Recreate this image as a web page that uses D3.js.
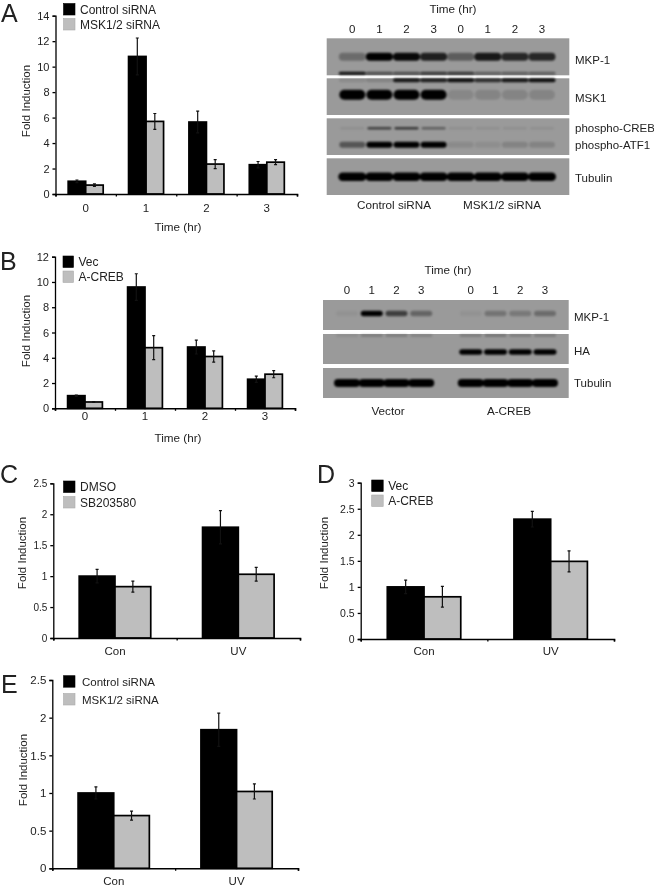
<!DOCTYPE html>
<html>
<head>
<meta charset="utf-8">
<script src="https://cdn.jsdelivr.net/npm/d3@7"></script>
<style>
    body { margin: 0; background: #fff; }
    svg { display: block; filter: blur(0.5px); }
    text { font-family: "Liberation Sans", Arial, sans-serif; fill: #222; }
</style>
</head>
<body>
<div id="figure"></div>
<script>
// Bar chart values
const timeLabels = ["0", "1", "2", "3"];
const treatLabels = ["Con", "UV"];

const aControl = [1.0, 10.8, 5.65, 2.3];
const aControlErr = [0.1, 1.45, 0.85, 0.25];
const aMsk = [0.7, 5.7, 2.35, 2.5];
const aMskErr = [0.1, 0.62, 0.35, 0.2];

const bVec = [1.0, 9.6, 4.85, 2.3];
const bVecErr = [0.05, 1.05, 0.55, 0.25];
const bCreb = [0.5, 4.8, 4.1, 2.7];
const bCrebErr = [0.03, 0.95, 0.45, 0.28];

const cDmso = [1.0, 1.79];
const cDmsoErr = [0.11, 0.27];
const cSb = [0.83, 1.03];
const cSbErr = [0.09, 0.11];

const dVec = [1.0, 2.3];
const dVecErr = [0.13, 0.15];
const dCreb = [0.81, 1.49];
const dCrebErr = [0.2, 0.2];

const eControl = [1.0, 1.84];
const eControlErr = [0.08, 0.22];
const eMsk = [0.7, 1.02];
const eMskErr = [0.06, 0.1];

// Blot band darkness per lane, 0 to 1
const blotAMkp = [0.3, 1, 0.95, 0.8, 0.4, 0.85, 0.75, 0.75];
const blotAMkpLow = [0.9, 0.5, 0.5, 0.65, 0.65, 0.4, 0.4, 0.4];
const blotAMskTop = [0.1, 0.15, 0.85, 0.8, 0.9, 0.7, 0.85, 0.9];
const blotAMsk = [1, 1, 1, 1, 0.12, 0.14, 0.14, 0.14];
const blotACreb = [0.08, 0.6, 0.65, 0.4, 0.08, 0.08, 0.08, 0.08];
const blotAAtf = [0.45, 1, 1, 1, 0.1, 0.08, 0.15, 0.15];
const blotATub = [1, 1, 1, 1, 1, 1, 1, 1];

const blotBMkp = [0.05, 1, 0.6, 0.35, 0.05, 0.25, 0.22, 0.3];
const blotBHaTop = [0.1, 0.22, 0.22, 0.18, 0.22, 0.28, 0.22, 0.22];
const blotBHa = [0, 0, 0, 0, 1, 1, 1, 1];
const blotBTub = [1, 1, 1, 1, 1, 1, 1, 1];

const width = 654;
const height = 888;

const svg = d3
    .select("#figure")
    .append("svg")
    .attr("width", width)
    .attr("height", height)
    .attr("viewBox", [0, 0, width, height]);

// Soft edges for the blot bands
svg.append("defs")
    .append("filter")
    .attr("id", "bandBlur")
    .attr("x", "-20%")
    .attr("y", "-100%")
    .attr("width", "140%")
    .attr("height", "300%")
    .append("feGaussianBlur")
    .attr("stdDeviation", 0.9);

function label(x, y, text, size, anchor) {
    return svg
        .append("text")
        .attr("x", x)
        .attr("y", y)
        .attr("font-size", size)
        .attr("text-anchor", anchor || "start")
        .text(text);
}

function drawBars(opts) {
    const y = d3
        .scaleLinear()
        .domain([0, opts.yMax])
        .range([opts.y0, opts.yTop]);

    const x = d3
        .scaleBand()
        .domain(opts.categories)
        .range([opts.x0, opts.x1])
        .paddingInner(0.42)
        .paddingOuter(0.21);

    const inner = d3
        .scaleBand()
        .domain([0, 1])
        .range([0, x.bandwidth()]);

    const g = svg.append("g");

    opts.series.forEach((s, i) => {
        const bars = g
            .append("g")
            .selectAll("g")
            .data(s.values)
            .join("g");

        bars.append("rect")
            .attr("x", (d, j) => x(opts.categories[j]) + inner(i))
            .attr("y", (d) => y(d))
            .attr("width", inner.bandwidth())
            .attr("height", (d) => y(0) - y(d))
            .attr("fill", i === 0 ? "#000" : "#bebebe")
            .attr("stroke", "#000")
            .attr("stroke-width", 1.7);

        // Error bars
        const cx = (j) =>
            x(opts.categories[j]) + inner(i) + inner.bandwidth() / 2;

        bars.append("path")
            .attr("d", (d, j) => {
                const top = y(d + s.errors[j]);
                const bottom = y(d - s.errors[j]);
                return `M${cx(j) - 1.5},${top}H${cx(j) + 1.5}M${cx(j)},${top}V${bottom}M${cx(j) - 1.5},${bottom}H${cx(j) + 1.5}`;
            })
            .attr("fill", "none")
            .attr("stroke", "#111")
            .attr("stroke-width", 1.2);
    });

    // Y axis
    const yAxis = g
        .append("g")
        .attr("transform", `translate(${opts.x0},0)`)
        .call(
            d3
                .axisLeft(y)
                .tickValues(d3.range(0, opts.yMax + opts.yStep / 2, opts.yStep))
                .tickFormat((d) => String(+d.toFixed(1)))
                .tickSize(3)
                .tickPadding(3)
        );
    yAxis.selectAll("text").attr("font-size", opts.yFont).attr("font-family", null);
    yAxis.selectAll("line").attr("stroke", "#000").attr("stroke-width", 1.3);
    yAxis.select(".domain").attr("stroke", "#000").attr("stroke-width", 1.3);

    // X axis: labels at category centres, ticks at category edges
    const xLabels = g
        .append("g")
        .attr("transform", `translate(0,${opts.y0})`)
        .call(d3.axisBottom(x).tickSize(0).tickPadding(opts.xPad));
    xLabels.select(".domain").remove();
    xLabels.selectAll("text").attr("font-size", 11.5).attr("font-family", null);

    const edge = d3
        .scaleLinear()
        .domain([0, opts.categories.length])
        .range([opts.x0, opts.x1]);

    const xEdges = g
        .append("g")
        .attr("transform", `translate(0,${opts.y0})`)
        .call(
            d3
                .axisBottom(edge)
                .ticks(opts.categories.length)
                .tickFormat("")
                .tickSize(2.5)
                .tickSizeOuter(2.5)
        );
    xEdges.selectAll("line").attr("stroke", "#000").attr("stroke-width", 1.3);
    xEdges.select(".domain").attr("stroke", "#000").attr("stroke-width", 1.6);

    // Axis titles
    svg.append("text")
        .attr("transform", `translate(${opts.titleX},${opts.titleY}) rotate(-90)`)
        .attr("text-anchor", "middle")
        .attr("font-size", 11.5)
        .text("Fold Induction");

    if (opts.timeY) {
        label(178, opts.timeY, "Time (hr)", 11.7, "middle");
    }

    // Legend
    opts.series.forEach((s, i) => {
        svg.append("rect")
            .attr("x", opts.legendX)
            .attr("y", opts.legendY[i])
            .attr("width", opts.swatch)
            .attr("height", 11.5)
            .attr("fill", i === 0 ? "#000" : "#bebebe")
            .attr("stroke", i === 0 ? "#000" : "#aaa")
            .attr("stroke-width", 0.6);
        label(
            opts.legendX + opts.swatch + opts.legendGap,
            opts.legendY[i] + 10,
            s.name,
            opts.legendFont
        );
    });
}

function drawStrip(lane, x0, x1, y0, y1, rows) {
    svg.append("rect")
        .attr("x", x0)
        .attr("y", y0)
        .attr("width", x1 - x0)
        .attr("height", y1 - y0)
        .attr("fill", "#9a9a9a");

    const g = svg.append("g").attr("filter", "url(#bandBlur)");

    rows.forEach((row) => {
        g.append("g")
            .selectAll("rect")
            .data(row.values)
            .join("rect")
            .attr("x", (d, i) => lane(i) - row.w / 2)
            .attr("y", y0 + row.dy - row.h / 2)
            .attr("width", row.w)
            .attr("height", row.h)
            .attr("rx", row.h / 2)
            .attr("fill", "#050505")
            .attr("opacity", (d) => d);
    });
}

// Panel A chart
drawBars({
    categories: timeLabels,
    series: [
        { name: "Control siRNA", values: aControl, errors: aControlErr },
        { name: "MSK1/2 siRNA", values: aMsk, errors: aMskErr },
    ],
    yMax: 14, yStep: 2, yFont: 11,
    x0: 55.5, x1: 297, y0: 194, yTop: 15.7,
    xPad: 10,
    titleX: 30, titleY: 101, timeY: 231,
    legendX: 63.5, legendY: [3.5, 18.5], swatch: 11.5, legendGap: 5, legendFont: 12,
});

// Panel B chart
drawBars({
    categories: timeLabels,
    series: [
        { name: "Vec", values: bVec, errors: bVecErr },
        { name: "A-CREB", values: bCreb, errors: bCrebErr },
    ],
    yMax: 12, yStep: 2, yFont: 11,
    x0: 55, x1: 295, y0: 408.3, yTop: 256.7,
    xPad: 4,
    titleX: 30, titleY: 331, timeY: 441.5,
    legendX: 63, legendY: [256, 271], swatch: 10.5, legendGap: 5, legendFont: 12,
});

// Panel C chart
drawBars({
    categories: treatLabels,
    series: [
        { name: "DMSO", values: cDmso, errors: cDmsoErr },
        { name: "SB203580", values: cSb, errors: cSbErr },
    ],
    yMax: 2.5, yStep: 0.5, yFont: 10,
    x0: 53.3, x1: 300, y0: 638, yTop: 483.3,
    xPad: 9,
    titleX: 26, titleY: 553,
    legendX: 63.5, legendY: [481, 496.5], swatch: 11.5, legendGap: 5, legendFont: 12,
});

// Panel D chart
drawBars({
    categories: treatLabels,
    series: [
        { name: "Vec", values: dVec, errors: dVecErr },
        { name: "A-CREB", values: dCreb, errors: dCrebErr },
    ],
    yMax: 3, yStep: 0.5, yFont: 10.5,
    x0: 360.7, x1: 614, y0: 639, yTop: 482.7,
    xPad: 8,
    titleX: 328, titleY: 553,
    legendX: 371.7, legendY: [480, 495], swatch: 11.5, legendGap: 5, legendFont: 12,
});

// Panel E chart
drawBars({
    categories: treatLabels,
    series: [
        { name: "Control siRNA", values: eControl, errors: eControlErr },
        { name: "MSK1/2 siRNA", values: eMsk, errors: eMskErr },
    ],
    yMax: 2.5, yStep: 0.5, yFont: 11.5,
    x0: 52.3, x1: 298, y0: 868.3, yTop: 680,
    xPad: 9,
    titleX: 27, titleY: 770,
    legendX: 63.5, legendY: [675.7, 693.5], swatch: 11.5, legendGap: 7, legendFont: 11.5,
});

// Blot A
const laneA = d3.scalePoint().domain(d3.range(8)).range([352.3, 542]);
drawStrip(laneA, 326.7, 569.3, 38.3, 75.3, [
    { values: blotAMkp, dy: 18.5, h: 8, w: 27 },
    { values: blotAMkpLow, dy: 35, h: 3, w: 27 },
]);
drawStrip(laneA, 326.7, 569.3, 78.3, 115, [
    { values: blotAMskTop, dy: 2, h: 4, w: 27 },
    { values: blotAMsk, dy: 16.5, h: 10, w: 26 },
]);
drawStrip(laneA, 326.7, 569.3, 118.3, 155, [
    { values: blotACreb, dy: 10, h: 2.5, w: 24 },
    { values: blotAAtf, dy: 26.5, h: 6, w: 26 },
]);
drawStrip(laneA, 326.7, 569.3, 158.3, 195, [
    { values: blotATub, dy: 18.5, h: 8.5, w: 28 },
]);

label(453, 13, "Time (hr)", 11.7, "middle");
["0", "1", "2", "3", "0", "1", "2", "3"].forEach((t, i) => {
    label(laneA(i), 33, t, 11.5, "middle");
});
label(575, 64, "MKP-1", 11.5);
label(575, 102, "MSK1", 11.5);
label(575, 132, "phospho-CREB", 11.5);
label(575, 149, "phospho-ATF1", 11.5);
label(575, 182, "Tubulin", 11.5);
label(394, 209, "Control siRNA", 11.7, "middle");
label(502, 209, "MSK1/2 siRNA", 11.7, "middle");

// Blot B has an empty lane slot between the two groups
const laneBSlots = d3.scalePoint().domain(d3.range(9)).range([347, 545]);
const laneB = (i) => laneBSlots(i < 4 ? i : i + 1);
drawStrip(laneB, 323, 568.7, 300, 330, [
    { values: blotBMkp, dy: 13.5, h: 5.5, w: 22 },
]);
drawStrip(laneB, 323, 568.7, 334, 364, [
    { values: blotBHaTop, dy: 1.5, h: 2.5, w: 22 },
    { values: blotBHa, dy: 18, h: 5.5, w: 23 },
]);
drawStrip(laneB, 323, 568.7, 368, 398, [
    { values: blotBTub, dy: 15, h: 8, w: 26 },
]);

label(448, 274, "Time (hr)", 11.7, "middle");
["0", "1", "2", "3", "0", "1", "2", "3"].forEach((t, i) => {
    label(laneB(i), 294, t, 11.5, "middle");
});
label(574, 321, "MKP-1", 11.5);
label(574, 355, "HA", 11.5);
label(574, 387, "Tubulin", 11.5);
label(388, 415, "Vector", 11.7, "middle");
label(509, 415, "A-CREB", 11.7, "middle");

// Panel letters
label(1, 21.5, "A", 25);
label(0, 270, "B", 25);
label(0, 483, "C", 25);
label(317, 483, "D", 25);
label(1, 693, "E", 25);
</script>
</body>
</html>
